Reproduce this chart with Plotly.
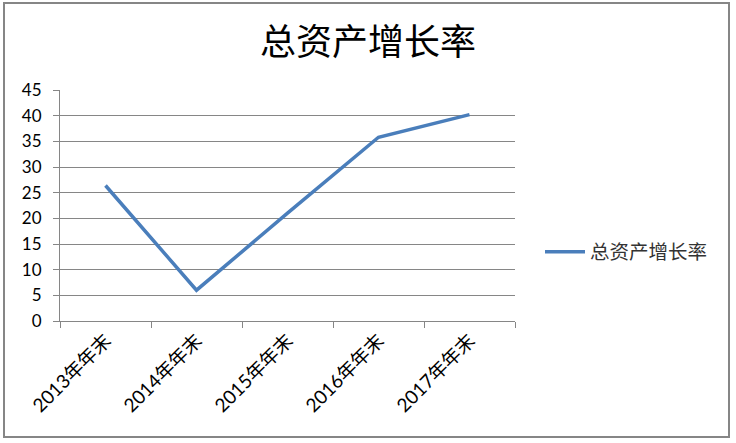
import plotly.graph_objects as go

categories = ["2013年年末", "2014年年末", "2015年年末", "2016年年末", "2017年年末"]
values = [26.4, 6.0, 21.0, 35.8, 40.2]
series_name = "总资产增长率"
y_ticks = [0, 5, 10, 15, 20, 25, 30, 35, 40, 45]

W, H = 736, 443
# plot area in page pixels: x 60..515, y 90..321
L, T = 60, 90
R = W - 515
B = H - 321
pw, ph = W - L - R, H - T - B

def px_x(p):
    return (p - L) / pw

def px_y(p):
    return (H - B - p) / ph

font_fam = "Lato, 'Noto Sans CJK SC', sans-serif"
cjk = "'Noto Sans CJK SC', sans-serif"

fig = go.Figure()
fig.add_trace(go.Scatter(
    x=categories, y=values, mode="lines", name=series_name,
    line=dict(color="#4A7EBB", width=3.5),
))

fig.update_layout(
    width=W, height=H,
    margin=dict(l=L, r=R, t=T, b=B, autoexpand=False),
    paper_bgcolor="white", plot_bgcolor="white",
    showlegend=True,
    title=dict(text=series_name, xref="container", x=368 / W, xanchor="center",
               yref="container", y=1 - 42 / H, yanchor="middle",
               font=dict(family=cjk, size=36, color="black")),
    legend=dict(x=px_x(540), y=px_y(252), xanchor="left", yanchor="middle",
                font=dict(family=cjk, size=19.5, color="#333333"),
                itemwidth=40, bgcolor="rgba(0,0,0,0)"),
    xaxis=dict(type="category", range=[-0.5, len(categories) - 0.5],
               tickson="boundaries", ticks="outside", ticklen=6, automargin=False,
               tickcolor="#868686", showline=True, linecolor="#868686", linewidth=1,
               showgrid=False, tickangle=-45,
               tickfont=dict(family=font_fam, size=19, color="black")),
    yaxis=dict(range=[0, 45], tickvals=y_ticks, ticks="outside", ticklen=6, automargin=False,
               ticklabelstandoff=8,
               tickcolor="#868686", showline=True, linecolor="#868686", linewidth=1,
               showgrid=True, gridcolor="#868686", gridwidth=1, zeroline=False,
               tickfont=dict(family=font_fam, size=17, color="black")),
    shapes=[dict(type="rect", xref="paper", yref="paper",
                 x0=px_x(4), x1=px_x(729), y0=px_y(437), y1=px_y(3),
                 line=dict(color="#868686", width=2), layer="below")],
)

fig.write_html("out.html", config={"displayModeBar": False},
               post_script="document.body.style.margin='0';document.body.style.overflow='hidden';")
